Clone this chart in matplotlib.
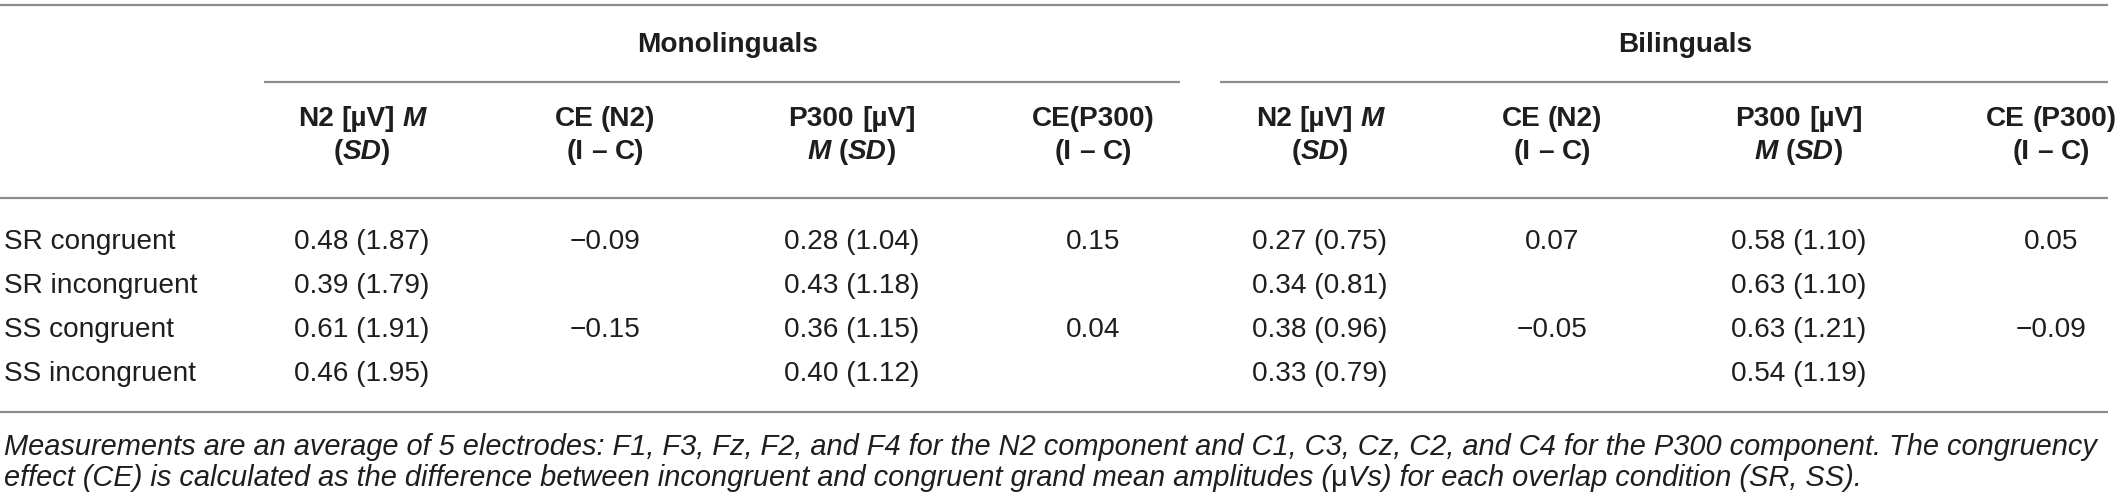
import matplotlib
matplotlib.use("Agg")
import matplotlib.pyplot as plt

# ---------------- data ----------------
conditions = ["SR congruent", "SR incongruent", "SS congruent", "SS incongruent"]
groups = ["Monolinguals", "Bilinguals"]

mono_n2_m = [0.48, 0.39, 0.61, 0.46]
mono_n2_sd = [1.87, 1.79, 1.91, 1.95]
mono_ce_n2 = [-0.09, None, -0.15, None]
mono_p300_m = [0.28, 0.43, 0.36, 0.40]
mono_p300_sd = [1.04, 1.18, 1.15, 1.12]
mono_ce_p300 = [0.15, None, 0.04, None]

bi_n2_m = [0.27, 0.34, 0.38, 0.33]
bi_n2_sd = [0.75, 0.81, 0.96, 0.79]
bi_ce_n2 = [0.07, None, -0.05, None]
bi_p300_m = [0.58, 0.63, 0.63, 0.54]
bi_p300_sd = [1.10, 1.10, 1.21, 1.19]
bi_ce_p300 = [0.05, None, -0.09, None]

footnote1 = ("Measurements are an average of 5 electrodes: F1, F3, Fz, F2, and F4 for the N2 "
             "component and C1, C3, Cz, C2, and C4 for the P300 component. The congruency")
footnote2a = "effect (CE) is calculated as the difference between incongruent and congruent grand mean amplitudes ("
footnote2b = "\u03bc"
footnote2c = "Vs) for each overlap condition (SR, SS)."

# ---------------- layout ----------------
W, H = 2118, 498
DPI = 100
FONT = "Liberation Sans"
PX = 28.0                      # font size in pixels
FS = PX * 72.0 / DPI           # in points
TXT = "#1e1e1e"
LINE = "#8c8c8c"

fig = plt.figure(figsize=(W / DPI, H / DPI), dpi=DPI)
ax = fig.add_axes([0, 0, 1, 1])
ax.set_xlim(0, W)
ax.set_ylim(H, 0)
ax.axis("off")
renderer = fig.canvas.get_renderer()

col_x = [362, 605, 852, 1093, 1320, 1552, 1799, 2051]
group_x = [(col_x[0] + col_x[3]) / 2, (col_x[4] + col_x[7]) / 2]
y_group = 45
y_h1, y_h2 = 119, 152
row_y = [242, 286, 330, 374]
y_foot = [447, 478]


def hline(y, x0, x1):
    ax.plot([x0, x1], [y, y], color=LINE, lw=1.6, solid_capstyle="butt")


hline(5, 0, 2108)
hline(82, 264, 1180)
hline(82, 1220, 2108)
hline(198, 0, 2108)
hline(412, 0, 2108)

SPACE = 0.278 * PX


def seg_text(x, y, segs, align="center", size=FS):
    """segs: list of (string, weight, style); ' ' as string means a space gap."""
    objs = []
    widths = []
    for s, w, st in segs:
        if s == " ":
            objs.append(None)
            widths.append(SPACE * size / FS)
            continue
        t = ax.text(0, y, s, fontsize=size, fontweight=w, fontstyle=st,
                    family=FONT, color=TXT, ha="left", va="center")
        bb = t.get_window_extent(renderer=renderer)
        objs.append(t)
        widths.append(bb.width)
    total = sum(widths)
    if align == "center":
        cur = x - total / 2
    else:
        cur = x
    for t, wdt in zip(objs, widths):
        if t is not None:
            t.set_x(cur)
        cur += wdt
    return total


B = ("bold", "normal")
BI = ("bold", "italic")


def sg(s, st):
    return (s, st[0], st[1])


n2_head1 = [sg("N2", B), sg(" ", B), sg("[\u00b5V]", B), sg(" ", B), sg("M", BI)]
n2_head2 = [sg("(", B), sg("SD", BI), sg(")", B)]
p3_head1 = [sg("P300", B), sg(" ", B), sg("[\u00b5V]", B)]
p3_head2 = [sg("M", BI), sg(" ", B), sg("(", B), sg("SD", BI), sg(")", B)]
ic = [sg("(I", B), sg(" ", B), sg("\u2013", B), sg(" ", B), sg("C)", B)]

headers = [
    (n2_head1, n2_head2),
    ([sg("CE", B), sg(" ", B), sg("(N2)", B)], ic),
    (p3_head1, p3_head2),
    ([sg("CE(P300)", B)], ic),
    (n2_head1, n2_head2),
    ([sg("CE", B), sg(" ", B), sg("(N2)", B)], ic),
    (p3_head1, p3_head2),
    ([sg("CE", B), sg(" ", B), sg("(P300)", B)], ic),
]

for gx, g in zip(group_x, groups):
    ax.text(gx, y_group, g, fontsize=FS, fontweight="bold", family=FONT,
            color=TXT, ha="center", va="center")

for cx, (h1, h2) in zip(col_x, headers):
    seg_text(cx, y_h1, h1)
    seg_text(cx, y_h2, h2)


def fmt(v):
    s = f"{abs(v):.2f}"
    return ("\u2212" + s) if v < 0 else s


columns = [
    (mono_n2_m, mono_n2_sd), mono_ce_n2, (mono_p300_m, mono_p300_sd), mono_ce_p300,
    (bi_n2_m, bi_n2_sd), bi_ce_n2, (bi_p300_m, bi_p300_sd), bi_ce_p300,
]

for i, (cond, y) in enumerate(zip(conditions, row_y)):
    ax.text(4, y, cond, fontsize=FS, family=FONT, color=TXT, ha="left", va="center")
    for cx, col in zip(col_x, columns):
        if isinstance(col, tuple):
            s = f"{col[0][i]:.2f} ({col[1][i]:.2f})"
        else:
            if col[i] is None:
                continue
            s = fmt(col[i])
        ax.text(cx, y, s, fontsize=FS, family=FONT, color=TXT, ha="center", va="center")

# footnote, first line justified to table width
probe = ax.text(0, 0, footnote1, fontsize=FS, fontstyle="italic", family=FONT)
wprobe = probe.get_window_extent(renderer=renderer).width
probe.remove()
fs_foot = FS * (2104 - 4) / wprobe
ax.text(4, y_foot[0], footnote1, fontsize=fs_foot, fontstyle="italic", family=FONT,
        color=TXT, ha="left", va="center")
seg_text(4, y_foot[1], [(footnote2a, "normal", "italic"), (footnote2b, "normal", "normal"),
                        (footnote2c, "normal", "italic")], align="left", size=fs_foot)

fig.savefig("out.png", dpi=DPI)
